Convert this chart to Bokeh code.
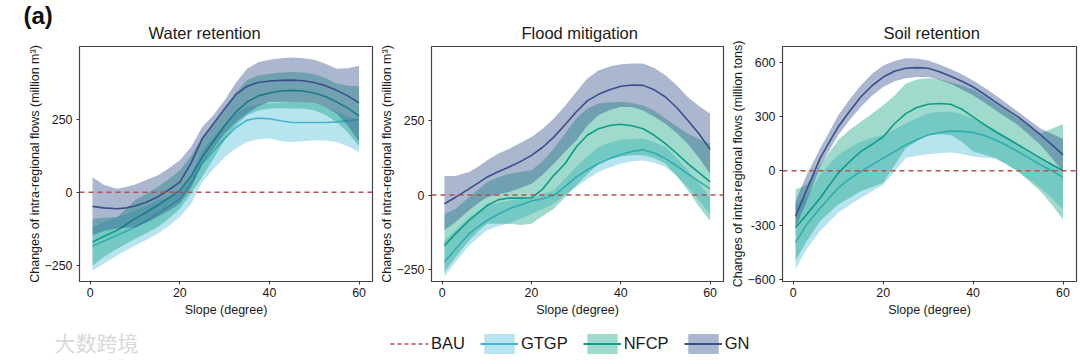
from bokeh.plotting import figure
from bokeh.layouts import row, column
from bokeh.models import Range1d, FixedTicker, Span, Label, Legend, LegendItem, ColumnDataSource
from bokeh.embed import file_html
from bokeh.resources import INLINE

FONT = "Liberation Sans"
slope = [0.5, 3, 6, 8, 10, 12.5, 15, 17.5, 20, 22.5, 25, 27.5, 30, 32.5, 35, 37.5, 40, 42.5, 45, 47.5, 50, 52.5, 55, 57.5, 60]
bau_level = 0
series_names = ["GTGP", "NFCP", "GN"]
titles = ["Water retention", "Flood mitigation", "Soil retention"]
y_labels = ["Changes of intra-regional flows (million m³)",
            "Changes of intra-regional flows (million m³)",
            "Changes of intra-regional flows (million tons)"]
x_title = "Slope (degree)"
x_ticks = [0, 20, 40, 60]
y_ticks_a = [-250, 0, 250]
y_tick_labels_a = ["−250", "0", "250"]
y_ticks_c = [-600, -300, 0, 300, 600]
y_tick_labels_c = ["−600", "-300", "0", "300", "600"]

# Water retention
w_gtgp = [-184, -167, -147, -133, -119, -97, -73, -49, -22, 30, 98, 142, 184, 222, 247, 254, 252, 245, 239, 239, 239, 239, 241, 245, 249]
w_gtgp_hi = [-119, -102, -84, -73, -62, -46, -27, -13, 1, 60, 144, 190, 235, 270, 292, 302, 304, 307, 309, 308, 304, 292, 275, 260, 247]
w_gtgp_lo = [-267, -244, -216, -199, -182, -163, -142, -115, -84, -40, 35, 80, 121, 150, 172, 182, 184, 176, 172, 175, 178, 177, 172, 158, 138]
w_nfcp = [-170, -151, -130, -110, -90, -68, -45, -20, 7, 55, 121, 175, 229, 275, 309, 330, 340, 347, 349, 347, 340, 328, 309, 288, 261]
w_nfcp_hi = [-90, -87, -84, -57, -27, -5, 18, 45, 75, 125, 190, 235, 281, 340, 384, 400, 406, 410, 412, 410, 404, 391, 372, 365, 363]
w_nfcp_lo = [-250, -221, -193, -176, -159, -140, -119, -90, -56, -5, 53, 115, 178, 230, 264, 280, 287, 288, 287, 286, 281, 265, 241, 205, 158]
w_gn = [-48, -53, -56, -53, -47, -34, -16, 8, 35, 100, 184, 235, 286, 335, 363, 376, 381, 383, 384, 382, 376, 365, 349, 330, 306]
w_gn_hi = [52, 26, 12, 18, 27, 42, 58, 82, 110, 155, 224, 265, 315, 375, 423, 445, 454, 459, 461, 459, 454, 440, 423, 425, 433]
w_gn_lo = [-147, -132, -124, -122, -119, -104, -84, -63, -39, 15, 98, 150, 201, 240, 269, 295, 309, 310, 309, 308, 306, 292, 269, 228, 172]

# Flood mitigation
f_gtgp = [-224, -180, -129, -106, -85, -64, -46, -33, -20, -12, -1, 28, 60, 85, 105, 122, 136, 146, 152, 141, 122, 98, 71, 46, 21]
f_gtgp_hi = [-152, -118, -74, -53, -35, -26, -18, -12, -7, 3, 16, 55, 94, 130, 161, 175, 185, 188, 189, 178, 161, 125, 83, 40, -7]
f_gtgp_lo = [-272, -224, -169, -143, -118, -104, -94, -79, -63, -47, -29, 0, 27, 54, 77, 92, 105, 113, 116, 108, 94, 64, 27, -18, -63]
f_nfcp = [-169, -129, -85, -60, -35, -16, -10, -10, -9, 20, 66, 105, 161, 200, 222, 233, 237, 232, 222, 200, 172, 140, 105, 75, 44]
f_nfcp_hi = [-63, -46, -7, 18, 43, 60, 71, 77, 83, 113, 155, 205, 256, 290, 306, 310, 312, 308, 300, 282, 256, 230, 205, 188, 172]
f_nfcp_lo = [-258, -208, -152, -122, -96, -96, -96, -100, -96, -70, -46, -8, 32, 70, 105, 120, 129, 133, 133, 124, 105, 65, 16, -38, -87]
f_gn = [-29, -7, 21, 40, 60, 78, 94, 112, 133, 160, 194, 235, 278, 315, 337, 352, 364, 368, 367, 352, 328, 293, 250, 205, 153]
f_gn_hi = [64, 64, 77, 95, 116, 138, 155, 174, 194, 222, 256, 298, 345, 390, 417, 430, 438, 440, 440, 425, 401, 367, 328, 298, 272]
f_gn_lo = [-118, -90, -51, -27, -7, 3, 10, 24, 38, 68, 105, 145, 183, 232, 267, 285, 295, 295, 283, 262, 239, 208, 172, 125, 71]

# Soil retention
s_gtgp = [-397, -296, -205, -150, -95, -45, -4, 33, 70, 105, 143, 172, 198, 212, 219, 218, 212, 195, 170, 140, 106, 70, 33, 0, -35]
s_gtgp_hi = [-187, -141, -22, 35, 88, 128, 161, 182, 198, 228, 262, 292, 316, 325, 326, 312, 289, 258, 225, 190, 152, 110, 70, 37, 5]
s_gtgp_lo = [-543, -433, -333, -282, -232, -190, -150, -113, -77, -5, 70, 83, 91, 97, 101, 93, 79, 72, 66, 35, -4, -48, -95, -150, -214]
s_nfcp = [-315, -241, -150, -80, -13, 50, 106, 145, 188, 260, 316, 350, 368, 372, 368, 340, 298, 255, 216, 180, 143, 107, 70, 35, 0]
s_nfcp_hi = [-104, -77, 33, 102, 170, 225, 271, 315, 362, 415, 481, 505, 512, 505, 490, 472, 450, 412, 371, 330, 289, 248, 207, 232, 258]
s_nfcp_lo = [-497, -388, -278, -232, -187, -150, -113, -90, -68, 30, 124, 165, 198, 200, 198, 160, 106, 88, 70, 35, -4, -58, -113, -188, -269]
s_gn = [-251, -104, 70, 158, 243, 328, 408, 470, 518, 550, 567, 570, 567, 548, 523, 495, 463, 423, 380, 338, 298, 250, 198, 145, 88]
s_gn_hi = [-168, -22, 124, 215, 307, 392, 472, 535, 582, 607, 622, 620, 609, 588, 563, 533, 499, 460, 417, 372, 326, 280, 234, 205, 176]
s_gn_lo = [-315, -168, 24, 112, 198, 280, 353, 415, 463, 495, 512, 518, 518, 502, 481, 450, 417, 377, 335, 293, 252, 198, 143, 70, -4]

band_colors = {"GTGP": "#4ebbd6", "NFCP": "#0fa382", "GN": "#2c4a87"}
line_colors = {"GTGP": "#45b4d2", "NFCP": "#0f9c84", "GN": "#3a4f8a"}
BAND_ALPHA = 0.4
DASH_COLOR = "#b5514f"
INK = "#1a1a1a"


def panel(title, ylab, ys, ticks, tick_labels, yr, bl, br, w, title_x, top=46):
    frame_h = 235 if top == 46 else 237
    p = figure(width=w, height=320, output_backend="svg", toolbar_location=None,
               x_range=Range1d(-2.4, 63), y_range=Range1d(*yr),
               min_border_left=bl, min_border_right=br, min_border_top=top,
               min_border_bottom=320 - top - frame_h)
    for name, (mid, hi, lo) in zip(series_names, ys):
        src = ColumnDataSource(dict(x=slope, mid=mid, hi=hi, lo=lo))
        p.varea(x="x", y1="lo", y2="hi", source=src, fill_color=band_colors[name], fill_alpha=BAND_ALPHA)
        p.line(x="x", y="mid", source=src, line_color=line_colors[name], line_width=1.6, line_join="round")
    p.add_layout(Span(location=bau_level, dimension="width", line_color=DASH_COLOR,
                      line_width=1.5, line_dash="5 4"))
    p.grid.visible = False
    p.outline_line_color = "#444444"
    p.outline_line_width = 1.2
    p.title.text = title
    p.title.align = "left"
    p.title.offset = title_x
    p.title.text_font = FONT
    p.title.text_font_size = "16.5px"
    p.title.text_font_style = "normal"
    p.title.text_color = INK
    for ax in (p.xaxis[0], p.yaxis[0]):
        ax.axis_line_color = None
        ax.major_tick_line_color = "#333333"
        ax.major_tick_in = 0
        ax.major_tick_out = 3
        ax.minor_tick_line_color = None
        ax.major_label_text_font = FONT
        ax.major_label_text_font_size = "12.4px"
        ax.major_label_text_color = INK
        ax.axis_label_text_font = FONT
        ax.axis_label_text_font_size = "12.5px"
        ax.axis_label_text_font_style = "normal"
        ax.axis_label_text_color = INK
    p.xaxis[0].ticker = FixedTicker(ticks=x_ticks)
    p.xaxis[0].axis_label = x_title
    p.xaxis[0].axis_label_standoff = 3
    p.xaxis[0].major_label_standoff = 3
    p.yaxis[0].ticker = FixedTicker(ticks=ticks)
    p.yaxis[0].major_label_overrides = dict(zip(ticks, tick_labels))
    p.yaxis[0].axis_label = ylab
    p.yaxis[0].axis_label_standoff = 0
    p.yaxis[0].major_label_standoff = 4
    return p


p1 = panel(titles[0], y_labels[0],
           [(w_gtgp, w_gtgp_hi, w_gtgp_lo), (w_nfcp, w_nfcp_hi, w_nfcp_lo), (w_gn, w_gn_hi, w_gn_lo)],
           y_ticks_a, y_tick_labels_a, (-305, 499), 79, 4, 376, 69)
p2 = panel(titles[1], y_labels[1],
           [(f_gtgp, f_gtgp_hi, f_gtgp_lo), (f_nfcp, f_nfcp_hi, f_nfcp_lo), (f_gn, f_gn_hi, f_gn_lo)],
           y_ticks_a, y_tick_labels_a, (-289, 497), 54, 4, 351, 90)
p3 = panel(titles[2], y_labels[2],
           [(s_gtgp, s_gtgp_hi, s_gtgp_lo), (s_nfcp, s_nfcp_hi, s_nfcp_lo), (s_gn, s_gn_hi, s_gn_lo)],
           y_ticks_c, y_tick_labels_c, (-612, 687), 54, 2, 351, 101, top=44)

# Transparent strip laid over the top left corner, holding the panel letter.
strip = figure(width=70, height=34, output_backend="svg", toolbar_location=None,
               x_range=Range1d(0, 1), y_range=Range1d(0, 1),
               min_border_left=0, min_border_right=0, min_border_top=0, min_border_bottom=0,
               margin=(-320, 0, 0, 0))
strip.axis.visible = False
strip.grid.visible = False
strip.outline_line_color = None
strip.background_fill_color = None
strip.border_fill_color = None
strip.add_layout(Label(x=23, y=6, x_units="screen", y_units="screen", text="(a)",
                       text_font=FONT, text_font_size="24px", text_font_style="bold",
                       text_color="#111111"))

leg = figure(width=1078, height=36, output_backend="svg", toolbar_location=None,
             x_range=Range1d(100, 101), y_range=Range1d(0, 1),
             min_border_left=0, min_border_right=0, min_border_top=0, min_border_bottom=0,
             margin=(286, 0, 0, 0))
leg.axis.visible = False
leg.grid.visible = False
leg.outline_line_color = None
key_src = ColumnDataSource(dict(x=slope, lo=s_gn_lo, hi=s_gn_hi))
items = [LegendItem(label="BAU", renderers=[leg.line("x", "lo", source=key_src, line_color=DASH_COLOR, line_width=1.5, line_dash="4 3")])]
for name in series_names:
    b = leg.varea(x="x", y1="lo", y2="hi", source=key_src, fill_color=band_colors[name], fill_alpha=BAND_ALPHA)
    l = leg.line(x="x", y="lo", source=key_src, line_color=line_colors[name], line_width=1.8)
    items.append(LegendItem(label=name, renderers=[b, l]))
legend = Legend(items=items, orientation="horizontal", location=(390, 0), background_fill_alpha=0,
                border_line_color=None, glyph_width=38, glyph_height=25, label_standoff=3, spacing=15,
                padding=0, margin=0, label_text_font=FONT, label_text_font_size="16.5px", label_text_color=INK)
leg.add_layout(legend)
leg.add_layout(Label(x=54, y=0, x_units="screen", y_units="screen", text="大数跨境",
                     text_font="Noto Sans CJK SC", text_font_size="21px", text_color="#d8d8d8"))

page = column(row(p1, p2, p3), strip, leg)
open("out.html", "w").write(file_html(page, INLINE))
